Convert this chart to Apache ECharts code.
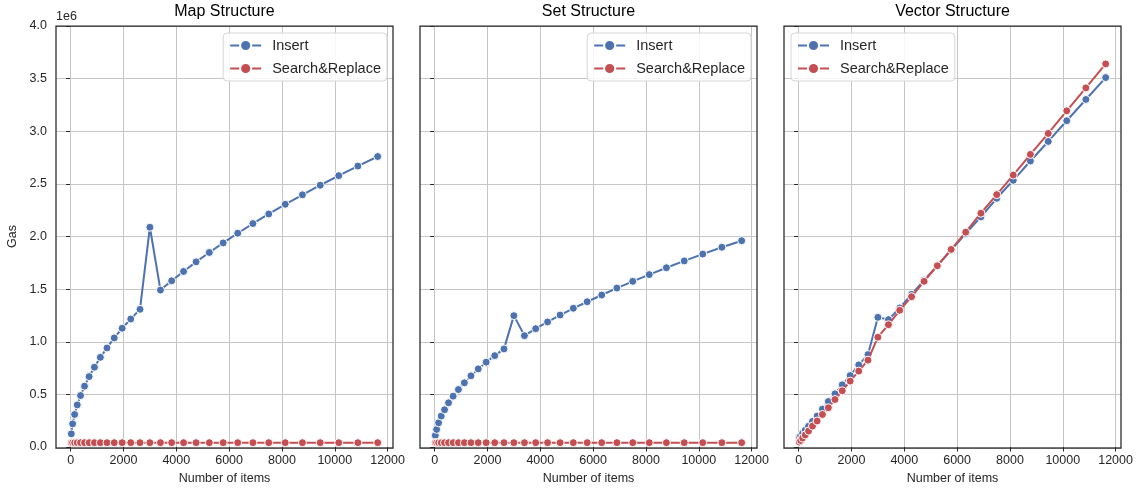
<!DOCTYPE html>
<html>
<head>
<meta charset="utf-8">
<script src="https://cdn.jsdelivr.net/npm/echarts@6/dist/echarts.min.js"></script>
<style>
html,body{margin:0;padding:0;background:#fff;}
#chart{width:1148px;height:490px;}
</style>
</head>
<body>
<div id="chart"></div>
<script>
// ---- data ----
const items = [25,75,150,250,375,525,700,900,1125,1375,1650,1950,2275,2625,3000,3400,3825,4275,4750,5250,5775,6325,6900,7500,8125,8775,9450,10150,10875,11625];

const mapInsert = [125000,220000,309000,400000,489000,578000,669000,758000,852000,941000,1036000,1128000,1216000,1308000,2088000,1491000,1579000,1668000,1759000,1848000,1939000,2031000,2123000,2214000,2306000,2396000,2487000,2578000,2669000,2760000];
const mapSearch = [41000,41000,41000,41000,41000,41000,41000,41000,41000,41000,41000,41000,41000,41000,41000,41000,41000,41000,41000,41000,41000,41000,41000,41000,41000,41000,41000,41000,41000,41000];

const setInsert = [110000,167000,230000,294000,354000,420000,483000,546000,610000,676000,742000,806000,868000,932000,1248000,1058000,1124000,1188000,1254000,1318000,1380000,1444000,1510000,1574000,1638000,1703000,1768000,1833000,1898000,1960000];
const setSearch = [41000,41000,41000,41000,41000,41000,41000,41000,41000,41000,41000,41000,41000,41000,41000,41000,41000,41000,41000,41000,41000,41000,41000,41000,41000,41000,41000,41000,41000,41000];

const vecInsert = [92000,107000,130000,160000,197000,243000,294000,360000,432000,505000,591000,679000,780000,878000,1232000,1210000,1321000,1450000,1586000,1722000,1870000,2028000,2186000,2363000,2534000,2717000,2903000,3100000,3302000,3510000];
const vecSearch = [47000,62000,85000,115000,152000,199000,247000,309000,373000,451000,534000,626000,721000,825000,1043000,1162000,1299000,1428000,1574000,1722000,1877000,2041000,2221000,2398000,2584000,2780000,2979000,3194000,3412000,3640000];

const xTicks = [0,2000,4000,6000,8000,10000,12000];
const titles = ['Map Structure','Set Structure','Vector Structure'];
const seriesNames = ['Insert','Search&Replace'];
const panels = [[mapInsert,mapSearch],[setInsert,setSearch],[vecInsert,vecSearch]];

// ---- layout / style ----
const FONT = '"Liberation Sans", Arial, sans-serif';
const TXT = '#262626';
const GRIDC = '#c6c6c6';
const COLORS = ['#4c72b0','#c44e52'];
const GL = [56,420,784], GT = 26, GW = 337, GH = 422;

const chart = echarts.init(document.getElementById('chart'), null, {renderer:'canvas'});

const grid = [], xAxis = [], yAxis = [], series = [], title = [], legend = [], graphic = [];
for (let i = 0; i < 3; i++) {
  grid.push({left: GL[i], top: GT, width: GW, height: GH, containLabel: false});
  xAxis.push({
    type: 'value', gridIndex: i, min: -555, max: 12205,
    name: 'Number of items', nameLocation: 'middle', nameGap: 25,
    nameTextStyle: {fontFamily: FONT, fontSize: 12.5, color: TXT},
    axisLine: {show: false},
    axisTick: {show: true, length: 4.5, customValues: xTicks, lineStyle: {color: TXT, width: 1}},
    axisLabel: {customValues: xTicks, margin: 7, fontFamily: FONT, fontSize: 12.5, color: TXT,
      formatter: v => String(v)},
    splitLine: {show: false}
  });
  yAxis.push({
    type: 'value', gridIndex: i, min: 0, max: 4000000, interval: 500000,
    name: i === 0 ? 'Gas' : '', nameLocation: 'middle', nameGap: 37,
    nameTextStyle: {fontFamily: FONT, fontSize: 12.5, color: TXT},
    axisLine: {show: false},
    axisTick: {show: true, length: 4.5, lineStyle: {color: TXT, width: 1}},
    axisLabel: {show: i === 0, margin: 9, fontFamily: FONT, fontSize: 12.5, color: TXT,
      formatter: v => (v / 1e6).toFixed(1)},
    splitLine: {show: true, lineStyle: {color: GRIDC, width: 1}}
  });
  title.push({
    text: titles[i], left: GL[i] + GW / 2, top: 4, textAlign: 'center', padding: 0,
    textStyle: {fontFamily: FONT, fontSize: 16, fontWeight: 'normal', color: '#000'}
  });
  const lg = {
    data: seriesNames, orient: 'vertical', top: 33,
    itemWidth: 31, itemHeight: 14, itemGap: 8,
    padding: [5, 6, 5, 6],
    backgroundColor: 'rgba(255,255,255,0.85)', borderColor: '#d6d6d6', borderWidth: 1, borderRadius: 4,
    textStyle: {fontFamily: FONT, fontSize: 14.5, color: TXT, padding: [0, 0, 0, 6]},
    selectedMode: false
  };
  if (i === 0) lg.right = 1148 - 387;
  else if (i === 1) lg.right = 1148 - 751;
  else lg.left = 791;
  legend.push(lg);
  for (let s = 0; s < 2; s++) {
    const ser = {
      type: 'line', name: seriesNames[s], xAxisIndex: i, yAxisIndex: i,
      data: items.map((x, k) => [x, panels[i][s][k]]),
      symbol: 'circle', symbolSize: 8,
      lineStyle: {color: COLORS[s], width: 2},
      itemStyle: {color: COLORS[s], borderColor: '#fff', borderWidth: 1},
      z: 2 + s
    };
    if (s === 0) {
      ser.markLine = {
        silent: true, symbol: ['none', 'none'], z: 1, animation: false,
        label: {show: false},
        lineStyle: {color: GRIDC, width: 1, type: 'solid'},
        emphasis: {disabled: true},
        data: xTicks.map(v => ({xAxis: v}))
      };
    }
    series.push(ser);
  }
  graphic.push({
    type: 'rect', z: 100, silent: true,
    shape: {x: GL[i], y: GT, width: GW, height: GH},
    style: {fill: null, stroke: TXT, lineWidth: 1.25}
  });
}
graphic.push({
  type: 'text', left: 56, top: 10, z: 100,
  style: {text: '1e6', fontFamily: FONT, fontSize: 12.5, fill: TXT}
});

chart.setOption({
  animation: false,
  backgroundColor: '#fff',
  title, legend, grid, xAxis, yAxis, series, graphic
});
</script>
</body>
</html>
